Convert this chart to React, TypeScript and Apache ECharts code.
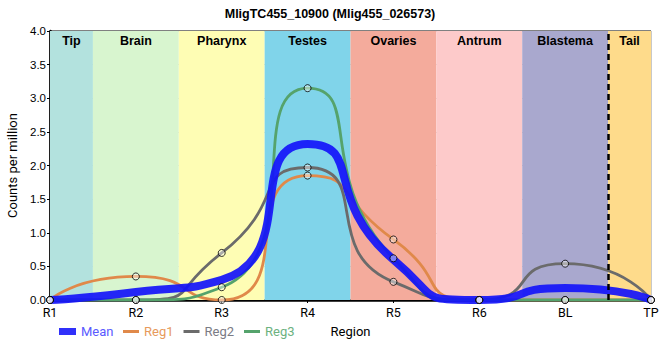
import React, { useEffect, useRef } from "react";
import * as echarts from "echarts";

const categories = ["R1", "R2", "R3", "R4", "R5", "R6", "BL", "TP"];
const bandNames = ["Tip", "Brain", "Pharynx", "Testes", "Ovaries", "Antrum", "Blastema", "Tail"];
const bandColors = ["#b3e2de", "#d8f5cf", "#fefdb4", "#80d4ea", "#f4ab9c", "#fdcaca", "#a9a8ce", "#fedb8b"];
const reg1 = [0, 0.35, 0.0, 1.85, 0.9, 0, 0, 0];
const reg2 = [0, 0, 0.7, 1.97, 0.27, 0, 0.54, 0];
const reg3 = [0, 0, 0.19, 3.15, 0.62, 0, 0, 0];
const mean = [0, 0.12, 0.3, 2.32, 0.6, 0, 0.18, 0];
const yTicks = [0, 0.5, 1, 1.5, 2, 2.5, 3, 3.5, 4];

const FONT = "Roboto, 'Liberation Sans', Arial, sans-serif";
const BOLD = "'Liberation Sans', Arial, sans-serif";

export default function App() {
  const ref = useRef<HTMLDivElement>(null);
  useEffect(() => {
    const chart = echarts.init(ref.current!, null, { renderer: "svg" });
    const n = categories.length;
    const toPts = (arr: number[]) => arr.map((v, i) => [i, v]);
    const bands = bandNames.map((name, i) => [
      {
        name,
        xAxis: Math.max(0, i - 0.5),
        itemStyle: { color: bandColors[i] },
      },
      { xAxis: Math.min(n - 1, i + 0.5) },
    ]);
    const SM = 0.7;
    const regLine = (name: string, data: number[], color: string) => ({
      name,
      type: "line",
      data: toPts(data),
      smooth: SM,
      showSymbol: false,
      lineStyle: { color, width: 2.8 },
      itemStyle: { color },
      z: 3,
    });
    const allPts = [reg1, reg2, reg3].flatMap((arr) => toPts(arr));
    chart.setOption({
      animation: false,
      title: {
        text: "MligTC455_10900 (Mlig455_026573)",
        left: "center",
        top: 2,
        textStyle: { fontFamily: BOLD, fontSize: 12.5, fontWeight: "bold", color: "#000" },
      },
      grid: {
        left: 50,
        right: 9,
        top: 31,
        bottom: 60,
        show: true,
        borderColor: "#000",
        borderWidth: 1,
        backgroundColor: "transparent",
        containLabel: false,
        outerBoundsMode: "none",
      },
      legend: [
        {
          data: [{ name: "Mean", textStyle: { color: "#5a5aff" } }],
          left: 54,
          top: 320,
          icon: "rect",
          itemWidth: 17,
          itemHeight: 7,
          itemGap: 10,
          textStyle: { fontFamily: FONT, fontSize: 13 },
        },
        {
          data: [
            { name: "Reg1", textStyle: { color: "#e79a5c" } },
            { name: "Reg2", textStyle: { color: "#7b7b85" } },
            { name: "Reg3", textStyle: { color: "#6db27f" } },
          ],
          left: 118,
          top: 320,
          icon: "rect",
          itemWidth: 16,
          itemHeight: 3,
          itemGap: 10,
          textStyle: { fontFamily: FONT, fontSize: 13 },
        },
      ],
      xAxis: {
        type: "value",
        min: 0,
        max: n - 1,
        interval: 1,
        name: "Region",
        nameLocation: "middle",
        nameGap: 25,
        nameTextStyle: { fontFamily: FONT, fontSize: 13, color: "#000" },
        axisLine: { show: true, onZero: false, lineStyle: { color: "#000", width: 2.5 } },
        axisTick: { show: true, length: 3, lineStyle: { color: "#000" } },
        axisLabel: {
          fontFamily: FONT,
          fontSize: 12.5,
          color: "#000",
          margin: 6,
          showMaxLabel: true,
          hideOverlap: false,
          overflow: "none",
          formatter: (v: number) => categories[Math.round(v)] ?? "",
        },
        splitLine: { show: true, lineStyle: { color: "#c8c8c8", width: 1 } },
      },
      yAxis: {
        type: "value",
        min: 0,
        max: 4,
        interval: 0.5,
        name: "Counts per million",
        nameLocation: "middle",
        nameGap: 23,
        nameTextStyle: { fontFamily: FONT, fontSize: 13, color: "#000", overflow: "none" },
        axisLine: { show: true, lineStyle: { color: "#000", width: 2.5 } },
        axisTick: { show: true, length: 3, lineStyle: { color: "#000" } },
        axisLabel: {
          fontFamily: BOLD,
          fontSize: 11.5,
          color: "#000",
          margin: 4,
          formatter: (v: number) => (yTicks.includes(v) ? v.toFixed(1) : ""),
        },
        splitLine: { show: true, lineStyle: { color: "#c8c8c8", width: 1 } },
      },
      series: [
        {
          name: "bands",
          type: "line",
          data: [],
          silent: true,
          z: 1,
          markArea: {
            silent: true,
            data: bands,
            label: {
              show: true,
              position: "insideTop",
              distance: 3,
              fontFamily: BOLD,
              fontWeight: "bold",
              fontSize: 12.5,
              color: "#000",
            },
          },
          markLine: {
            silent: true,
            symbol: "none",
            label: { show: false },
            lineStyle: { color: "#000", width: 2.5, type: [6, 4] },
            data: [{ xAxis: n - 1.5 }],
          },
        },
        regLine("Reg1", reg1, "#e0894a"),
        regLine("Reg2", reg2, "#6b6b6b"),
        regLine("Reg3", reg3, "#55a36c"),
        {
          name: "Mean",
          type: "line",
          data: toPts(mean),
          smooth: SM,
          showSymbol: false,
          lineStyle: { color: "rgba(20,20,250,0.92)", width: 8 },
          itemStyle: { color: "rgba(30,30,250,0.92)" },
          z: 4,
        },
        {
          name: "points",
          type: "scatter",
          data: allPts,
          symbol: "circle",
          symbolSize: 7,
          itemStyle: { color: "rgba(255,255,255,0.55)", borderColor: "#000", borderWidth: 1 },
          z: 5,
          silent: true,
        },
      ],
    });
    return () => chart.dispose();
  }, []);
  return <div ref={ref} style={{ position: "absolute", left: 0, top: 0, width: 660, height: 360 }} />;
}
